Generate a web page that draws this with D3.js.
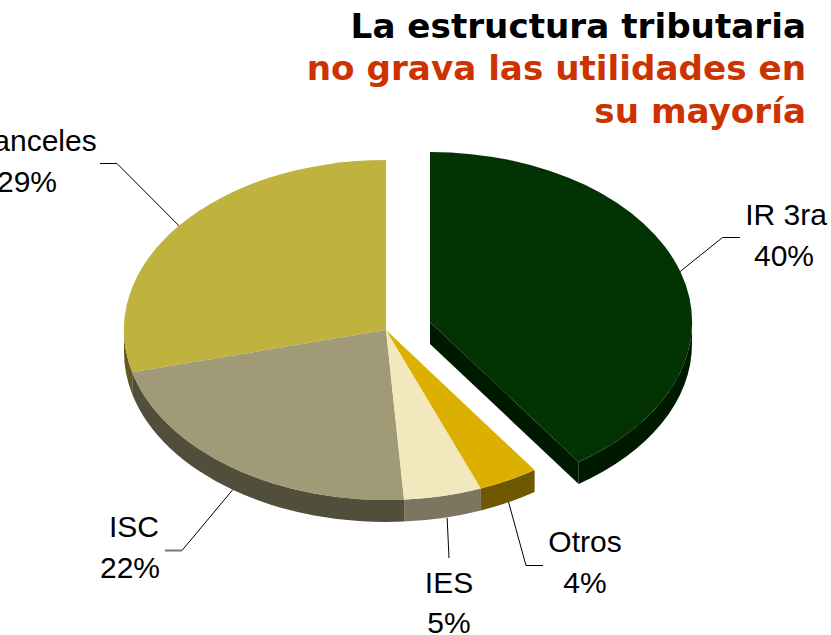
<!DOCTYPE html>
<html><head><meta charset="utf-8">
<script src="https://cdn.jsdelivr.net/npm/d3@7/dist/d3.min.js"></script>
<style>html,body{margin:0;padding:0;background:#fff;overflow:hidden}svg{display:block}</style>
</head><body><svg id="c" width="831" height="635"></svg>
<script>
const categories = ["IR 3ra","Otros","IES","ISC","Aranceles"];
const values = [40.4,3.7,4.8,22.1,29.0];
const percentLabels = ["40%","4%","5%","22%","29%"];
const topColors = ["#033303","#dcb000","#f3e8bd","#a19a76","#bfb23f"];
const sideColors = ["#001a00","#6f5800","#7c7660","#524e3c","#62591f"];
const titleLines = [["La estructura tributaria","#000"],["no grava las utilidades en","#cc3300"],["su mayoría","#cc3300"]];

const W=831,H=635,cx=386,cy=330,rx=262,ry=170,depth=22,explode=[44,-8];
const svg=d3.select("#c");
const x=d3.scaleLinear().domain([-1,1]).range([cx-rx,cx+rx]);
const y=d3.scaleLinear().domain([-1,1]).range([cy-ry,cy+ry]);
const arcs=d3.pie().sort(null).value(d=>d)(values);
const unit=d3.arc().innerRadius(0).outerRadius(1);
const pt=a=>[x(Math.sin(a)),y(-Math.cos(a))];
const offset=i=>i===0?explode:[0,0];

function side(a0,a1){
  a0=Math.max(a0,Math.PI/2);a1=Math.min(a1,Math.PI*1.5);
  if(a1<=a0)return null;
  const p=pt(a0),q=pt(a1),large=a1-a0>Math.PI?1:0;
  return `M${p}A${rx},${ry} 0 ${large} 1 ${q}L${q[0]},${q[1]+depth}A${rx},${ry} 0 ${large} 0 ${p[0]},${p[1]+depth}Z`;
}
const g=svg.append("g");
const order=[4,3,2,1,0];
order.forEach(i=>{
  const d=arcs[i],[ox,oy]=offset(i);
  const s=g.append("g").attr("transform",`translate(${ox},${oy})`);
  const sp=side(d.startAngle,d.endAngle);
  if(sp)s.append("path").attr("d",sp).attr("fill",sideColors[i]);
  if(i===0){
    const q=pt(d.endAngle);
    s.append("path").attr("d",d3.line()([[cx,cy],q,[q[0],q[1]+depth],[cx,cy+depth]])+"Z").attr("fill",sideColors[i]);
  }
  s.append("path")
   .attr("transform",`translate(${cx},${cy}) scale(${rx},${ry})`)
   .attr("d",unit(d)).attr("fill",topColors[i]);
});

// leader lines: start on the slice rim at its mid-angle
const elbows=[[[722.5,237.5],[740,237.5]],[[526,565.5],[543,565.5]],[[449,558]],[[182,550.5],[165,550.5]],[[117,163.5],[100,163.5]]];
arcs.forEach((d,i)=>{
  const a=(d.startAngle+d.endAngle)/2,p=pt(a),[ox,oy]=offset(i);
  const dp=(a>Math.PI/2&&a<Math.PI*1.5)?depth:0;
  const start=[p[0]+ox+(i===2?4:0),p[1]+oy+dp];
  svg.append("path").attr("d",d3.line()([start,...elbows[i]])).attr("fill","none").attr("stroke","#000").attr("stroke-width",1);
});
svg.append("path").attr("d",d3.line()(elbows[3])).attr("fill","none").attr("stroke","#777").attr("stroke-width",2);

// data labels: [name x, name baseline, percent x, percent baseline]
const labelPos=[[786,225,784,266],[585,552,585,593],[449,592.5,449,633],[134,537,130,578],[30,151,27,192]];
const font="'Liberation Sans',Arial,sans-serif";
categories.forEach((c,i)=>{
  const [x1,y1,x2,y2]=labelPos[i];
  svg.append("text").attr("x",x1).attr("y",y1).attr("text-anchor","middle").attr("font-family",font).attr("font-size",30).attr("fill","#000").text(c);
  svg.append("text").attr("x",x2).attr("y",y2).attr("text-anchor","middle").attr("font-family",font).attr("font-size",30).attr("fill","#000").text(percentLabels[i]);
});

// title
titleLines.forEach(([t,col],i)=>{
  svg.append("text").attr("x",806).attr("y",38+i*42.4).attr("text-anchor","end")
   .attr("font-family","'DejaVu Sans',Verdana,sans-serif").attr("font-weight","bold").attr("font-size",34.2)
   .attr("fill",col).text(t);
});
</script></body></html>
